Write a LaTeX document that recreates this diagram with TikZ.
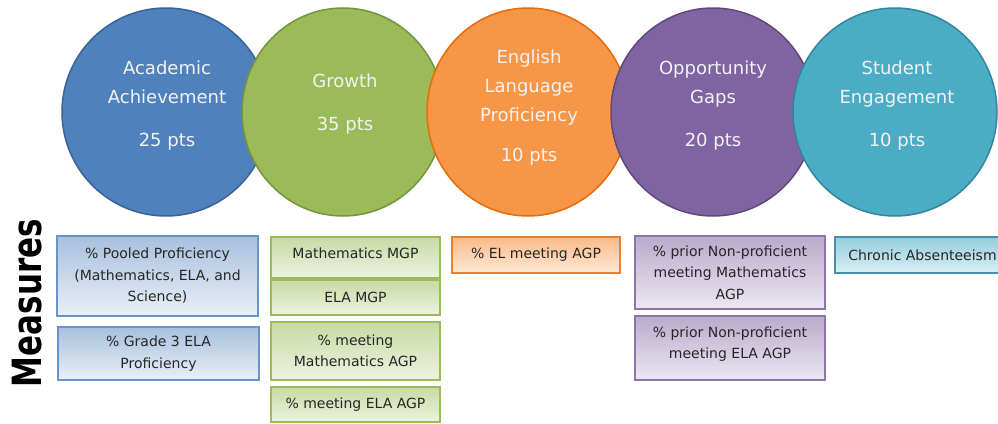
\documentclass[tikz,border=0pt]{standalone}
\usepackage{fontspec}
\setmainfont{DejaVu Sans}
\usetikzlibrary{shapes.geometric}
\definecolor{cblue}{HTML}{4F81BD}\definecolor{cblueD}{HTML}{3A6397}
\definecolor{cgreen}{HTML}{9BBB59}\definecolor{cgreenD}{HTML}{77933C}
\definecolor{corange}{HTML}{F79646}\definecolor{corangeD}{HTML}{E46C0A}
\definecolor{cpurple}{HTML}{8064A2}\definecolor{cpurpleD}{HTML}{5F4A7B}
\definecolor{cteal}{HTML}{4BACC6}\definecolor{ctealD}{HTML}{31859C}
\definecolor{ctxt}{HTML}{262626}
\tikzset{
  bubble/.style={ellipse, draw=#1D, fill=#1, line width=1.5pt, minimum height=208pt, inner sep=0pt},
  bubtext/.style={text=white!95!black, align=center, font=\fontsize{18}{29}\selectfont, inner sep=0pt},
  mbox/.style={rectangle, inner sep=0pt, line width=1.2pt, text=ctxt, align=center,
     font=\fontsize{14}{21.5}\selectfont},
  bluebox/.style={mbox, draw=cblue!85, top color=cblue!50, bottom color=cblue!12},
  greenbox/.style={mbox, draw=cgreen, top color=cgreen!55, bottom color=cgreen!18},
  orangebox/.style={mbox, draw=corangeD!85, top color=corange!65, bottom color=corange!22},
  purplebox/.style={mbox, draw=cpurple!90, top color=cpurple!55, bottom color=cpurple!15},
  tealbox/.style={mbox, draw=ctealD!90, top color=cteal!60, bottom color=cteal!20},
  boxtext/.style={text=ctxt, align=center, font=\fontsize{14}{21.5}\selectfont, inner sep=0pt}
}
\begin{document}
\begin{tikzpicture}[x=1pt,y=-1pt]
\useasboundingbox (0,0) rectangle (998,423);
\clip (0,0) rectangle (998,423);
% circles
\node[bubble=cblue, minimum width=208pt] (c1) at (166,112) {};
\node[bubble=cgreen, minimum width=202pt] (c2) at (343,112) {};
\node[bubble=corange, minimum width=202pt] (c3) at (528,112) {};
\node[bubble=cpurple, minimum width=204pt] (c4) at (713,112) {};
\node[bubble=cteal, minimum width=204pt] (c5) at (895,112) {};
\node[bubtext] (t1) at (167,106) {Academic\\Achievement\\[14pt]25 pts};
\node[bubtext] (t2) at (345,104) {Growth\\[14pt]35 pts};
\node[bubtext] (t3) at (529,108) {English\\Language\\Proficiency\\[11pt]10 pts};
\node[bubtext] (t4) at (713,106) {Opportunity\\Gaps\\[14pt]20 pts};
\node[bubtext] (t5) at (897,106) {Student\\Engagement\\[14pt]10 pts};
% label
\node[rotate=90, inner sep=0pt, font=\bfseries\fontsize{31}{31}\selectfont] (meas) at (27,303) {\scalebox{1}[1.3]{Measures}};
% boxes
\node[bluebox, minimum width=201pt, minimum height=80pt] (b1) at (157.5,276) {\% Pooled Proficiency\\(Mathematics, ELA, and\\Science)};
\node[bluebox, minimum width=201pt, minimum height=53pt] (b2) at (158.5,353.5) {\% Grade 3 ELA\\Proficiency};
\node[greenbox, minimum width=169pt, minimum height=41pt] (g1) at (355.5,257.5) {};
\node[boxtext] (g1t) at ([yshift=4.5pt]g1.center) {Mathematics MGP};
\node[greenbox, minimum width=169pt, minimum height=35pt] (g2) at (355.5,297.5) {ELA MGP};
\node[greenbox, minimum width=169pt, minimum height=58pt] (g3) at (355.5,351) {\% meeting\\Mathematics AGP};
\node[greenbox, minimum width=169pt, minimum height=35pt] (g4) at (355.5,404.5) {\% meeting ELA AGP};
\node[orangebox, minimum width=168pt, minimum height=36pt] (o1) at (536,255) {\% EL meeting AGP};
\node[purplebox, minimum width=190pt, minimum height=73pt] (p1) at (730,272.5) {\% prior Non-proficient\\meeting Mathematics\\AGP};
\node[purplebox, minimum width=190pt, minimum height=64pt] (p2) at (730,348) {};
\node[boxtext] (p2t) at ([yshift=4pt]p2.center) {\% prior Non-proficient\\meeting ELA AGP};
\node[tealbox, minimum width=175pt, minimum height=36pt] (s1) at (922.5,255) {Chronic Absenteeism};
\end{tikzpicture}
\end{document}
